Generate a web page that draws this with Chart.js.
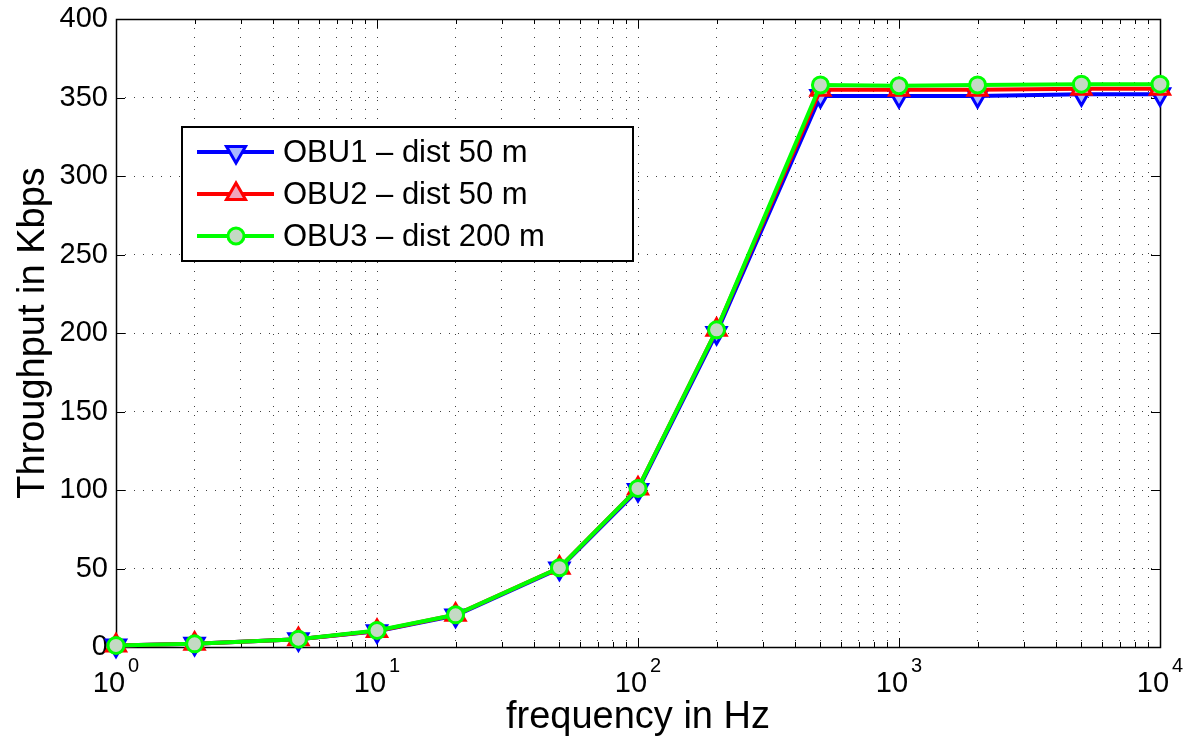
<!DOCTYPE html>
<html lang="en">
<head>
    <meta charset="UTF-8">
    <title>Throughput vs frequency</title>
    <style>
        * { margin: 0; padding: 0; box-sizing: border-box; }
        body { background: #fff; }
        #chart-container { position: relative; width: 1186px; height: 740px; }
    </style>
</head>
<body>
    <div id="chart-container">
        <canvas id="throughputChart"></canvas>
    </div>

    <script src="https://cdn.jsdelivr.net/npm/chart.js"></script>
    <script>
        // data
        const freqHz = [1, 2, 5, 10, 20, 50, 100, 200, 500, 1000, 2000, 5000, 10000];
        const obu1 = [1, 2, 5, 10, 20, 50, 100, 200, 351, 351, 351, 352, 352];
        const obu2 = [1, 2, 5, 10.2, 20.5, 50.5, 101, 202, 355, 355, 355, 355.5, 355.5];
        const obu3 = [1, 2, 5, 10.5, 20.5, 50.5, 101, 202, 358, 357.5, 358, 358.5, 358.5];
        const seriesNames = ['OBU1 \u2013 dist 50 m', 'OBU2 \u2013 dist 50 m', 'OBU3 \u2013 dist 200 m'];
        const xMajorTicks = [1, 10, 100, 1000, 10000];
        const xExponents = ['0', '1', '2', '3', '4'];

        const FONT = '"Liberation Sans", Arial, Helvetica, sans-serif';

        function toPoints(values) {
            return freqHz.map((f, i) => ({ x: f, y: values[i] }));
        }

        // frame with inward ticks, like the MATLAB axes box
        const frameAndTicks = {
            id: 'frameAndTicks',
            beforeDatasetsDraw(chart) {
                const { ctx, chartArea: a, scales } = chart;
                ctx.save();
                ctx.strokeStyle = '#000';
                ctx.lineWidth = 1;
                ctx.beginPath();
                scales.x.ticks.forEach(t => {
                    const px = Math.round(scales.x.getPixelForValue(t.value)) + 0.5;
                    const len = t.major ? 9 : 5;
                    ctx.moveTo(px, a.bottom); ctx.lineTo(px, a.bottom - len);
                    ctx.moveTo(px, a.top); ctx.lineTo(px, a.top + len);
                });
                scales.y.ticks.forEach(t => {
                    const py = Math.round(scales.y.getPixelForValue(t.value)) + 0.5;
                    ctx.moveTo(a.left, py); ctx.lineTo(a.left + 9, py);
                    ctx.moveTo(a.right, py); ctx.lineTo(a.right - 9, py);
                });
                ctx.stroke();
                ctx.lineWidth = 1.5;
                ctx.strokeRect(Math.round(a.left) + 0.5, Math.round(a.top) + 0.5,
                    Math.round(a.right - a.left), Math.round(a.bottom - a.top));
                ctx.restore();
            },
            afterDraw(chart) {
                // 10^n labels under the x axis
                const { ctx, scales } = chart;
                const base = '29px ' + FONT;
                const sup = '20px ' + FONT;
                ctx.save();
                ctx.fillStyle = '#000';
                ctx.textBaseline = 'alphabetic';
                ctx.textAlign = 'left';
                xMajorTicks.forEach((v, i) => {
                    const px = scales.x.getPixelForValue(v);
                    ctx.font = base;
                    const w1 = ctx.measureText('10').width;
                    ctx.font = sup;
                    const w2 = ctx.measureText(xExponents[i]).width;
                    const x0 = px - (w1 + 3 + w2) / 2;
                    ctx.font = base;
                    ctx.fillText('10', x0, 692);
                    ctx.font = sup;
                    ctx.fillText(xExponents[i], x0 + w1 + 3, 672);
                });
                ctx.restore();
            }
        };

        // legend box with line + marker samples
        const boxLegend = {
            id: 'boxLegend',
            afterDraw(chart) {
                const ctx = chart.ctx;
                const box = { x: 182, y: 127, w: 451, h: 134 };
                const rows = [152, 194, 236];
                ctx.save();
                ctx.fillStyle = '#fff';
                ctx.fillRect(box.x, box.y, box.w, box.h);
                ctx.strokeStyle = '#000';
                ctx.lineWidth = 2;
                ctx.strokeRect(box.x, box.y, box.w, box.h);
                chart.data.datasets.forEach((ds, i) => {
                    const y = rows[i];
                    ctx.strokeStyle = ds.borderColor;
                    ctx.lineWidth = 4;
                    ctx.beginPath();
                    ctx.moveTo(197, y); ctx.lineTo(274, y);
                    ctx.stroke();
                    ctx.fillStyle = ds.pointBackgroundColor;
                    ctx.strokeStyle = ds.pointBorderColor;
                    ctx.lineWidth = ds.pointBorderWidth;
                    Chart.helpers.drawPoint(ctx, {
                        pointStyle: ds.pointStyle,
                        radius: ds.pointRadius,
                        rotation: ds.pointRotation || 0,
                        borderWidth: ds.pointBorderWidth
                    }, 236, y);
                    ctx.fillStyle = '#000';
                    ctx.font = '31px ' + FONT;
                    ctx.textBaseline = 'middle';
                    ctx.fillText(seriesNames[i], 283, y + 1);
                });
                ctx.restore();
            }
        };

        const ctx = document.getElementById('throughputChart').getContext('2d');
        new Chart(ctx, {
            type: 'line',
            data: {
                datasets: [{
                    label: seriesNames[0],
                    data: toPoints(obu1),
                    borderColor: '#0000ff',
                    borderWidth: 4,
                    pointStyle: 'triangle',
                    pointRotation: 180,
                    pointRadius: 11,
                    pointBorderWidth: 3,
                    pointBorderColor: '#0000ff',
                    pointBackgroundColor: '#a9b8ff',
                    order: 3,
                    clip: false
                }, {
                    label: seriesNames[1],
                    data: toPoints(obu2),
                    borderColor: '#ff0000',
                    borderWidth: 4,
                    pointStyle: 'triangle',
                    pointRadius: 11,
                    pointBorderWidth: 3,
                    pointBorderColor: '#ff0000',
                    pointBackgroundColor: '#f0a4bc',
                    order: 2,
                    clip: false
                }, {
                    label: seriesNames[2],
                    data: toPoints(obu3),
                    borderColor: '#00ff00',
                    borderWidth: 4,
                    pointStyle: 'circle',
                    pointRadius: 8,
                    pointBorderWidth: 3,
                    pointBorderColor: '#00ff00',
                    pointBackgroundColor: '#c4d9c4',
                    order: 1,
                    clip: false
                }]
            },
            options: {
                responsive: true,
                maintainAspectRatio: false,
                animation: false,
                layout: { padding: { left: 0, top: 19, right: 26, bottom: 0 } },
                plugins: {
                    legend: { display: false },
                    tooltip: { enabled: false }
                },
                elements: { line: { tension: 0 } },
                scales: {
                    x: {
                        type: 'logarithmic',
                        min: 1,
                        max: 10000,
                        afterBuildTicks(scale) {
                            const ticks = [];
                            for (let e = 0; e <= 4; e++) {
                                for (let m = 1; m <= 9; m++) {
                                    const v = m * Math.pow(10, e);
                                    if (v <= 10000) ticks.push({ value: v, major: m === 1 });
                                }
                            }
                            scale.ticks = ticks;
                        },
                        afterFit(scale) {
                            scale.height = 93;
                            scale.paddingLeft = 0;
                            scale.paddingRight = 0;
                        },
                        ticks: { display: false, autoSkip: false },
                        grid: { color: 'rgba(0,0,0,0.75)', lineWidth: 1, drawTicks: false },
                        border: { display: false, dash: [1, 8] },
                        title: {
                            display: true,
                            text: 'frequency in Hz',
                            color: '#000',
                            font: { family: FONT, size: 38 },
                            padding: { top: 0, bottom: 0 }
                        }
                    },
                    y: {
                        min: 0,
                        max: 400,
                        afterFit(scale) {
                            scale.width = 116;
                            scale.paddingTop = 0;
                            scale.paddingBottom = 0;
                        },
                        ticks: {
                            stepSize: 50,
                            color: '#000',
                            padding: 8,
                            font: { family: FONT, size: 29 }
                        },
                        grid: { color: 'rgba(0,0,0,0.75)', lineWidth: 1, drawTicks: false },
                        border: { display: false, dash: [1, 8] },
                        title: {
                            display: true,
                            text: 'Throughput in Kbps',
                            color: '#000',
                            font: { family: FONT, size: 38 },
                            padding: { top: 11, bottom: 0 }
                        }
                    }
                }
            },
            plugins: [frameAndTicks, boxLegend]
        });
    </script>
</body>
</html>
